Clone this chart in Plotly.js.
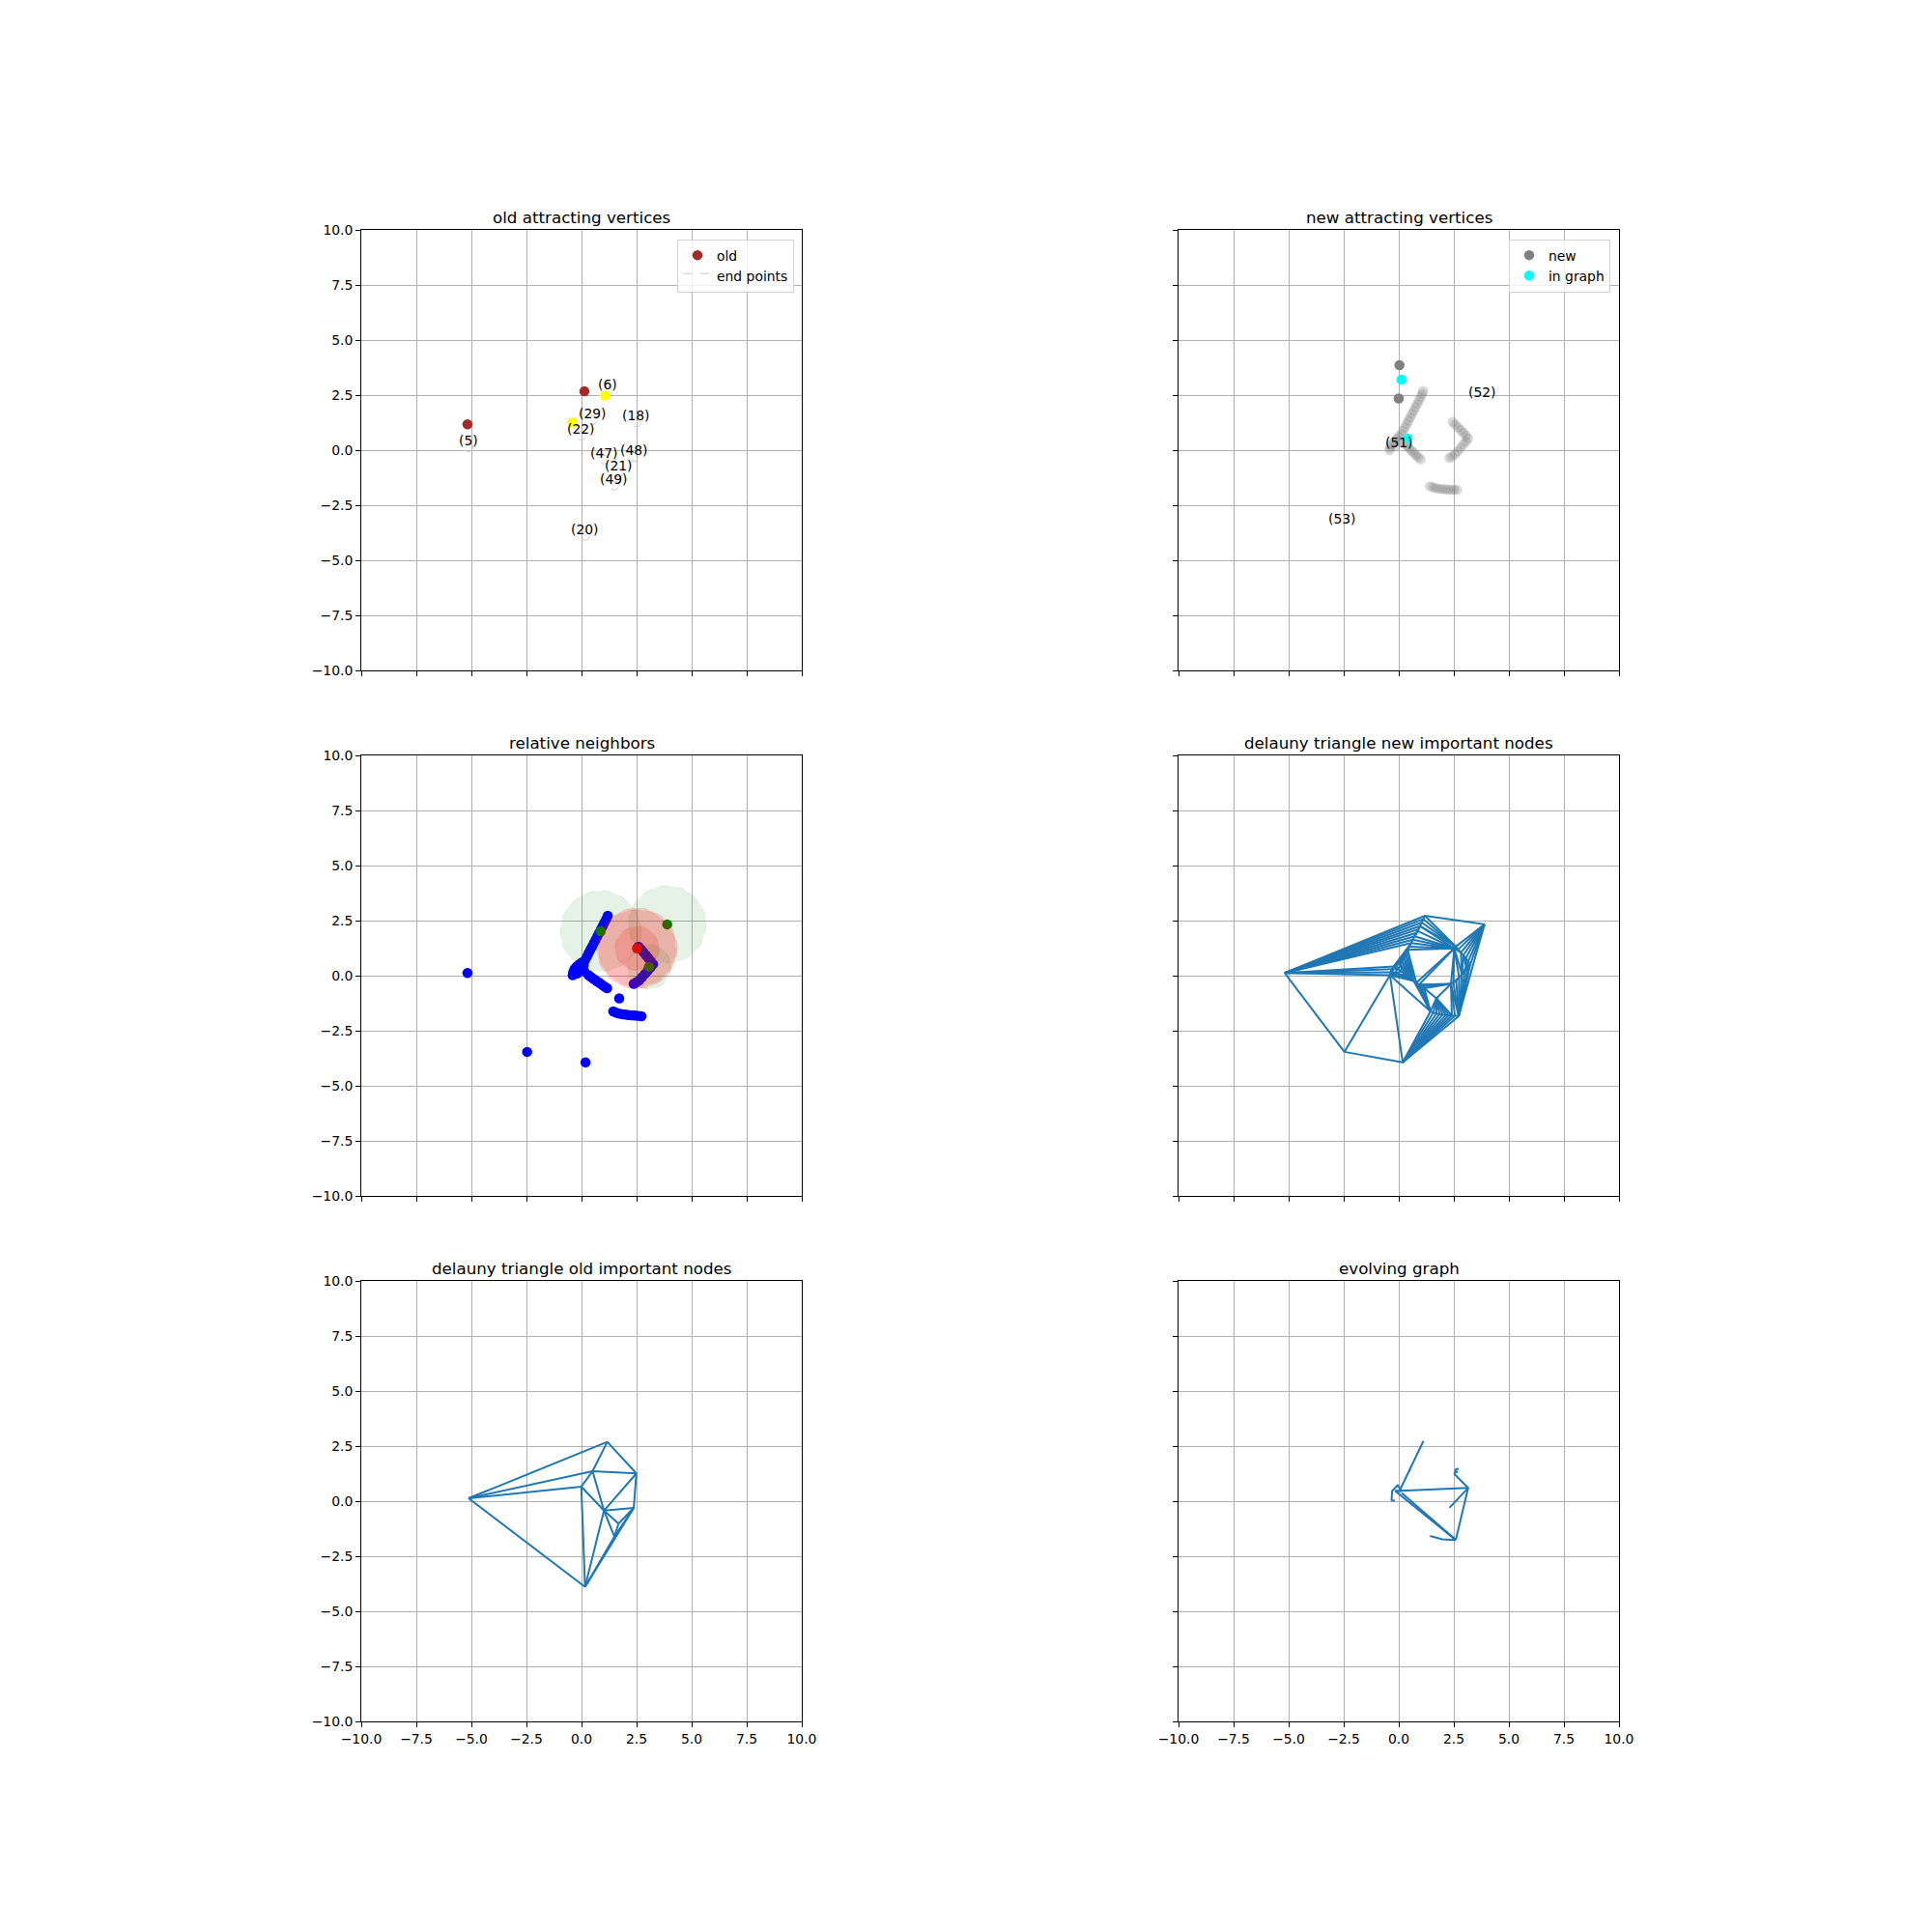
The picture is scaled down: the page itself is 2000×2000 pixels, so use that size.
<!DOCTYPE html>
<html>
<head>
<meta charset="utf-8">
<script src="https://cdn.plot.ly/plotly-3.0.1.min.js"></script>
<style>html,body{margin:0;padding:0;background:#fff;}#chart{width:2000px;height:2000px;}</style>
</head>
<body>
<div id="chart"></div>
<script>
// ---------- data ----------
const tickValues = [-10, -7.5, -5, -2.5, 0, 2.5, 5, 7.5, 10];
const tickLabels = ['\u221210.0', '\u22127.5', '\u22125.0', '\u22122.5', '0.0', '2.5', '5.0', '7.5', '10.0'];
const panelTitles = ['old attracting vertices', 'new attracting vertices', 'relative neighbors',
  'delauny triangle new important nodes', 'delauny triangle old important nodes', 'evolving graph'];

// panel 1: old attracting vertices
const oldX = [-5.18, 0.13];
const oldY = [1.17, 2.67];
const yellowX = [1.06, -0.41];
const yellowY = [2.48, 1.26];
const endLabels = ['(5)', '(6)', '(18)', '(29)', '(22)', '(48)', '(47)', '(21)', '(49)', '(20)'];
const endX = [-5.13, 1.17, 2.49, 0.50, -0.01, 2.37, 1.02, 1.68, 1.49, 0.16];
const endY = [0.13, 2.69, 1.26, 1.36, 0.66, -0.31, -0.43, -1.02, -1.61, -3.89];

// panel 2: new attracting vertices
const candX = [0.13, 0.20, 0.28, 0.36, 0.44, 0.52, 0.60, 0.68, 0.76, 0.84, 0.92, 1.00, 1.06, 1.11,
  -0.42, -0.40, -0.33, -0.22, -0.10, 0.00, 0.05, -0.15,
  0.28, 0.38, 0.48, 0.58, 0.68, 0.78, 0.88, 0.99,
  2.45, 2.57, 2.70, 2.82, 2.94, 3.05, 3.15, 3.05, 2.93, 2.80, 2.68, 2.55, 2.42, 2.30,
  1.42, 1.55, 1.68, 1.82, 1.96, 2.10, 2.24, 2.38, 2.51, 2.64];
const candY = [0.72, 0.88, 1.03, 1.19, 1.34, 1.49, 1.65, 1.80, 1.95, 2.11, 2.26, 2.42, 2.56, 2.69,
  0.00, 0.12, 0.25, 0.40, 0.52, 0.62, 0.40, 0.20,
  0.28, 0.18, 0.08, -0.02, -0.12, -0.22, -0.32, -0.42,
  1.28, 1.16, 1.03, 0.91, 0.79, 0.66, 0.54, 0.40, 0.25, 0.10, -0.05, -0.19, -0.29, -0.35,
  -1.64, -1.68, -1.72, -1.75, -1.77, -1.78, -1.79, -1.80, -1.80, -1.80];
const newX = [0.03, 0.00];
const newY = [3.86, 2.35];
const inGraphX = [0.12, 0.40];
const inGraphY = [3.20, 0.53];
const newLabels = ['(51)', '(52)', '(53)'];
const newLabelX = [0.00, 3.80, -2.55];
const newLabelY = [0.06, 2.33, -3.44];

// panel 3: relative neighbors
const nodeX = [0.16, 0.24, 0.32, 0.40, 0.48, 0.56, 0.64, 0.72, 0.80, 0.88, 0.96, 1.04, 1.12, 1.19,
  -0.40, -0.38, -0.32, -0.22, -0.10, 0.02, 0.10, -0.05, -0.20, 0.12,
  0.32, 0.44, 0.56, 0.68, 0.80, 0.92, 1.04, 1.16,
  1.71,
  1.44, 1.57, 1.71, 1.85, 1.99, 2.13, 2.27, 2.41, 2.55, 2.72,
  2.59, 2.70, 2.82, 2.93, 3.04, 3.15, 3.25, 3.13, 3.00, 2.87, 2.74, 2.61, 2.48, 2.37,
  -5.18, -2.47, 0.18];
const nodeY = [0.70, 0.86, 1.02, 1.17, 1.32, 1.48, 1.63, 1.79, 1.94, 2.10, 2.25, 2.41, 2.57, 2.72,
  0.02, 0.15, 0.30, 0.42, 0.52, 0.60, 0.48, 0.30, 0.10, 0.20,
  0.02, -0.07, -0.15, -0.24, -0.32, -0.41, -0.49, -0.57,
  -1.03,
  -1.62, -1.68, -1.72, -1.75, -1.77, -1.79, -1.80, -1.81, -1.82, -1.84,
  1.32, 1.19, 1.05, 0.92, 0.79, 0.65, 0.52, 0.37, 0.22, 0.07, -0.08, -0.22, -0.31, -0.37,
  0.12, -3.46, -3.94];
const centerX = [2.52];
const centerY = [1.24];
const neighborX = [0.87, 3.89, 3.06];
const neighborY = [2.02, 2.33, 0.40];

// panel 6: evolving graph (polylines separated by null)
const evoX = [1.12, 0.03, null, -0.16, 3.15, null, 3.15, 2.59, null, 2.54, 3.15, 2.30, null,
  -0.16, 2.59, null, 0.13, 2.59, null, 1.42, 1.98, 2.59, null,
  -0.33, -0.30, -0.05, 0.13, -0.16, null, -0.33, -0.18, null,
  2.52, 2.60, 2.72, null, 2.56, 2.69, null, 0.47, 0.52];
const evoY = [2.73, 0.46, null, 0.46, 0.60, null, 0.60, -1.76, null, 1.22, 0.60, -0.30, null,
  0.46, -1.76, null, 0.37, -1.76, null, -1.58, -1.73, -1.76, null,
  0.02, 0.46, 0.72, 0.46, 0.46, null, 0.02, 0.03, null,
  1.20, 1.45, 1.47, null, 1.32, 1.34, null, 1.36, 1.40];

// ---------- helpers ----------
const FONT = 'DejaVu Sans';
const LINE_BLUE = '#1f77b4';

function delaunayEdges(xs, ys) {
  const n = xs.length;
  const pts = xs.map((x, i) => [x, ys[i]]);
  const minX = Math.min(...xs), maxX = Math.max(...xs), minY = Math.min(...ys), maxY = Math.max(...ys);
  const dmax = Math.max(maxX - minX, maxY - minY) * 2000;
  const mx = (minX + maxX) / 2, my = (minY + maxY) / 2;
  pts.push([mx - dmax, my - dmax], [mx, my + dmax], [mx + dmax, my - dmax]);
  function circ(t) {
    const [ax, ay] = pts[t[0]], [bx, by] = pts[t[1]], [cx, cy] = pts[t[2]];
    const d = 2 * (ax * (by - cy) + bx * (cy - ay) + cx * (ay - by));
    const a2 = ax * ax + ay * ay, b2 = bx * bx + by * by, c2 = cx * cx + cy * cy;
    const ux = (a2 * (by - cy) + b2 * (cy - ay) + c2 * (ay - by)) / d;
    const uy = (a2 * (cx - bx) + b2 * (ax - cx) + c2 * (bx - ax)) / d;
    return [ux, uy, (ax - ux) * (ax - ux) + (ay - uy) * (ay - uy)];
  }
  let tris = [[n, n + 1, n + 2]].map(t => ({ t, c: circ(t) }));
  for (let i = 0; i < n; i++) {
    const [px, py] = pts[i];
    const bad = [], good = [];
    for (const tr of tris) {
      const dx = px - tr.c[0], dy = py - tr.c[1];
      if (dx * dx + dy * dy < tr.c[2] * (1 - 1e-12)) bad.push(tr); else good.push(tr);
    }
    const cnt = new Map();
    for (const tr of bad) for (let k = 0; k < 3; k++) {
      const a = tr.t[k], b = tr.t[(k + 1) % 3];
      const key = a < b ? a + ',' + b : b + ',' + a;
      cnt.set(key, (cnt.get(key) || 0) + 1);
    }
    for (const tr of bad) for (let k = 0; k < 3; k++) {
      const a = tr.t[k], b = tr.t[(k + 1) % 3];
      const key = a < b ? a + ',' + b : b + ',' + a;
      if (cnt.get(key) === 1) { const t = [a, b, i]; good.push({ t, c: circ(t) }); }
    }
    tris = good;
  }
  const seen = new Set(), ex = [], ey = [];
  for (const tr of tris) {
    if (tr.t.some(v => v >= n)) continue;
    for (let k = 0; k < 3; k++) {
      const a = tr.t[k], b = tr.t[(k + 1) % 3];
      const key = a < b ? a + ',' + b : b + ',' + a;
      if (seen.has(key)) continue;
      seen.add(key);
      ex.push(xs[a], xs[b], null); ey.push(ys[a], ys[b], null);
    }
  }
  return { x: ex, y: ey };
}

function circlePolys(cx, cy, r) {
  const x = [], y = [];
  for (let i = 0; i < cx.length; i++) {
    for (let k = 0; k <= 36; k++) {
      const a = 2 * Math.PI * k / 36;
      x.push(cx[i] + r * Math.cos(a)); y.push(cy[i] + r * Math.sin(a));
    }
    x.push(null); y.push(null);
  }
  return { x, y };
}

// ---------- traces ----------
const MS = 10.5;
const endCircles = circlePolys(endX, endY, 0.2);
const allNewX = nodeX.concat(neighborX, centerX);
const allNewY = nodeY.concat(neighborY, centerY);
const triNew = delaunayEdges(allNewX, allNewY);
const triOld = delaunayEdges(endX, endY);

const traces = [
  { type: 'scatter', mode: 'markers', name: 'old', x: oldX, y: oldY, xaxis: 'x', yaxis: 'y',
    marker: { color: '#a52a2a', size: MS }, legend: 'legend' },
  { type: 'scatter', mode: 'lines', name: 'end points', x: endCircles.x, y: endCircles.y, xaxis: 'x', yaxis: 'y',
    fill: 'toself', fillcolor: 'rgba(255,255,255,0)', line: { color: '#cccccc', width: 1, dash: 'dash' },
    legend: 'legend', hoverinfo: 'skip' },
  { type: 'scatter', mode: 'markers', x: yellowX, y: yellowY, xaxis: 'x', yaxis: 'y',
    marker: { color: '#ffff00', size: MS }, showlegend: false },

  { type: 'scatter', mode: 'markers', x: candX, y: candY, xaxis: 'x2', yaxis: 'y2',
    marker: { color: '#808080', size: MS, opacity: 0.3 }, showlegend: false },
  { type: 'scatter', mode: 'markers', name: 'new', x: newX, y: newY, xaxis: 'x2', yaxis: 'y2',
    marker: { color: '#808080', size: MS }, legend: 'legend2' },
  { type: 'scatter', mode: 'markers', name: 'in graph', x: inGraphX, y: inGraphY, xaxis: 'x2', yaxis: 'y2',
    marker: { color: '#00ffff', size: MS }, legend: 'legend2' },

  { type: 'scatter', mode: 'markers', x: nodeX, y: nodeY, xaxis: 'x3', yaxis: 'y3',
    marker: { color: '#0000ff', size: MS }, showlegend: false },
  { type: 'scatter', mode: 'markers', x: neighborX, y: neighborY, xaxis: 'x3', yaxis: 'y3',
    marker: { color: '#008000', size: MS }, showlegend: false },
  { type: 'scatter', mode: 'markers', x: centerX, y: centerY, xaxis: 'x3', yaxis: 'y3',
    marker: { color: '#ff0000', size: MS }, showlegend: false },

  { type: 'scatter', mode: 'lines', x: triNew.x, y: triNew.y, xaxis: 'x4', yaxis: 'y4',
    line: { color: LINE_BLUE, width: 2 }, showlegend: false },
  { type: 'scatter', mode: 'lines', x: triOld.x, y: triOld.y, xaxis: 'x5', yaxis: 'y5',
    line: { color: LINE_BLUE, width: 2 }, showlegend: false },
  { type: 'scatter', mode: 'lines', x: evoX, y: evoY, xaxis: 'x6', yaxis: 'y6',
    line: { color: LINE_BLUE, width: 2 }, showlegend: false }
];

// ---------- layout ----------
// axes boxes of 456 px (57 px per 2.5 units) starting on whole pixels
const xDom = [[374 / 2000, 830 / 2000], [1220 / 2000, 1676 / 2000]];
const yDom = [[1 - 694 / 2000, 1 - 238 / 2000], [1 - 1238 / 2000, 1 - 782 / 2000], [1 - 1782 / 2000, 1 - 1326 / 2000]];

const layout = {
  width: 2000, height: 2000,
  margin: { l: 0, r: 0, t: 0, b: 0 },
  paper_bgcolor: '#ffffff', plot_bgcolor: '#ffffff',
  font: { family: FONT, size: 13.9, color: '#000000' },
  showlegend: true,
  legend: { x: 0.411, xanchor: 'right', y: 0.8762, yanchor: 'top', bgcolor: 'rgba(255,255,255,0.8)',
    bordercolor: '#d0d0d0', borderwidth: 1, font: { family: FONT, size: 13.9, color: '#000' }, tracegroupgap: 0 },
  legend2: { x: 0.8335, xanchor: 'right', y: 0.8762, yanchor: 'top', bgcolor: 'rgba(255,255,255,0.8)',
    bordercolor: '#d0d0d0', borderwidth: 1, font: { family: FONT, size: 13.9, color: '#000' }, tracegroupgap: 0 },
  annotations: [],
  shapes: []
};

for (let k = 1; k <= 6; k++) {
  const row = Math.floor((k - 1) / 2), col = (k - 1) % 2;
  const common = {
    range: [-10, 10], autorange: false, tickmode: 'array', tickvals: tickValues, ticktext: tickLabels,
    ticks: 'outside', ticklen: 4.9, tickwidth: 1, tickcolor: '#000',
    showgrid: true, gridcolor: '#b0b0b0', gridwidth: 1, zeroline: false,
    showline: true, mirror: true, linecolor: '#000', linewidth: 1,
    tickfont: { family: FONT, size: 13.9, color: '#000' }, fixedrange: true
  };
  layout['xaxis' + (k === 1 ? '' : k)] = Object.assign({}, common, {
    domain: xDom[col], anchor: 'y' + (k === 1 ? '' : k), showticklabels: row === 2 });
  layout['yaxis' + (k === 1 ? '' : k)] = Object.assign({}, common, {
    domain: yDom[row], anchor: 'x' + (k === 1 ? '' : k), showticklabels: col === 0 });
  layout.annotations.push({
    xref: 'paper', yref: 'paper', x: (xDom[col][0] + xDom[col][1]) / 2, y: yDom[row][1],
    xanchor: 'center', yanchor: 'middle', yshift: 13, showarrow: false,
    text: panelTitles[k - 1], font: { family: FONT, size: 16.7, color: '#000' }
  });
}

// labels in panel 1 and 2
endLabels.forEach((t, i) => layout.annotations.push({
  xref: 'x', yref: 'y', x: endX[i], y: endY[i], text: t, showarrow: false,
  xanchor: 'center', yanchor: 'middle', yshift: 7, font: { family: FONT, size: 13.9, color: '#000' }
}));
newLabels.forEach((t, i) => layout.annotations.push({
  xref: 'x2', yref: 'y2', x: newLabelX[i], y: newLabelY[i], text: t, showarrow: false,
  xanchor: 'center', yanchor: 'middle', yshift: 7, font: { family: FONT, size: 13.9, color: '#000' }
}));

// lune circles in panel 3 (relative neighborhood test)
neighborX.forEach((nx, i) => {
  const ny = neighborY[i];
  const r = Math.hypot(nx - centerX[0], ny - centerY[0]);
  layout.shapes.push({ type: 'circle', xref: 'x3', yref: 'y3', layer: 'above',
    x0: nx - r, x1: nx + r, y0: ny - r, y1: ny + r,
    fillcolor: 'rgba(0,128,0,0.1)', line: { color: 'rgba(0,128,0,0.12)', width: 1, dash: 'dash' } });
  layout.shapes.push({ type: 'circle', xref: 'x3', yref: 'y3', layer: 'above',
    x0: centerX[0] - r, x1: centerX[0] + r, y0: centerY[0] - r, y1: centerY[0] + r,
    fillcolor: 'rgba(255,0,0,0.14)', line: { color: 'rgba(255,0,0,0.15)', width: 1, dash: 'dash' } });
});

Plotly.newPlot('chart', traces, layout, { staticPlot: true, displayModeBar: false });
</script>
</body>
</html>
